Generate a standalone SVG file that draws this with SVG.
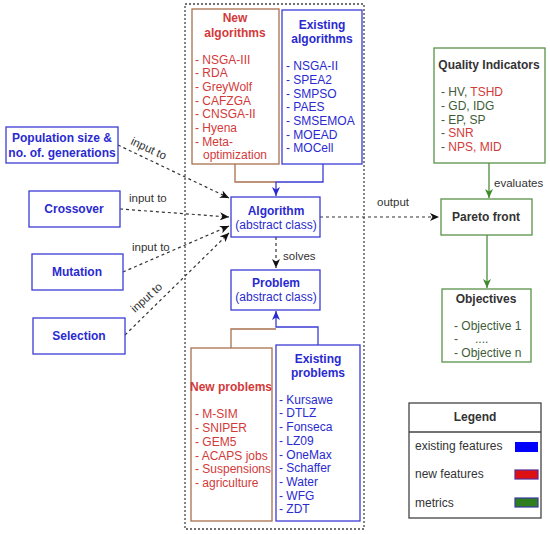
<svg xmlns="http://www.w3.org/2000/svg" width="550" height="534" viewBox="0 0 550 534">
<style>
text{font-family:"Liberation Sans",Arial,sans-serif;font-size:12px}
.b{font-weight:bold}
.c{text-anchor:middle}
.blue{fill:#2a2ad0}
.red{fill:#d23a3a}
.gt{fill:#3e5c38}
.dk{fill:#333}
.lbl{fill:#333;font-size:11.5px}
.bx{fill:#fff;stroke:#3b3bd6;stroke-width:1.3}
.nbx{fill:#fff;stroke:#a8704e;stroke-width:1.3}
.gbx{fill:#fff;stroke:#5a9348;stroke-width:1.3}
.dash{fill:none;stroke:#333;stroke-width:1.2;stroke-dasharray:3 3}
.bl{fill:none;stroke:#3b3bd6;stroke-width:1.3}
.br{fill:none;stroke:#a8704e;stroke-width:1.3}
.gl{fill:none;stroke:#4d8a3a;stroke-width:1.3}
</style>
<defs>
<marker id="ak" markerUnits="userSpaceOnUse" markerWidth="10" markerHeight="8" refX="9" refY="4" orient="auto"><path d="M0,0 L9,4 L0,8 L2.5,4 z" fill="#111"/></marker>
<marker id="ab" markerUnits="userSpaceOnUse" markerWidth="10" markerHeight="8" refX="9" refY="4" orient="auto"><path d="M0,0 L9,4 L0,8 L2.5,4 z" fill="#2a2ad0"/></marker>
<marker id="ag" markerUnits="userSpaceOnUse" markerWidth="10" markerHeight="8" refX="9" refY="4" orient="auto"><path d="M0,0 L9,4 L0,8 L2.5,4 z" fill="#3f8a2a"/></marker>
</defs>
<rect width="550" height="534" fill="#fff"/>
<rect x="185" y="4" width="179" height="525" fill="none" stroke="#444" stroke-width="1.3" stroke-dasharray="2 2"/>

<g id="connectors">
<path class="br" d="M235,164 V182 H276"/>
<path class="bl" d="M323,164 V182 H276 V196" marker-end="url(#ab)"/>
<path class="dash" d="M276,237 V268" marker-end="url(#ak)"/>
<text class="lbl" x="283" y="260">solves</text>
<path class="br" d="M231,348 V329 H276"/>
<path class="bl" d="M318,345 V327 H276 V311" marker-end="url(#ab)"/>
<path class="dash" d="M118,145 L229,198" marker-end="url(#ak)"/>
<path class="dash" d="M120,209 L229,217" marker-end="url(#ak)"/>
<path class="dash" d="M123,272 L229,226" marker-end="url(#ak)"/>
<path class="dash" d="M125,335 L229,233" marker-end="url(#ak)"/>
<text class="lbl" transform="translate(130,144) rotate(25)">input to</text>
<text class="lbl" x="129" y="202">input to</text>
<text class="lbl" x="132" y="251">input to</text>
<text class="lbl" transform="translate(135,313) rotate(-42)">input to</text>
<path class="dash" d="M320,217 L439,217" marker-end="url(#ak)"/>
<text class="lbl" x="377" y="206">output</text>
<path class="gl" d="M489,163 V198" marker-end="url(#ag)"/>
<text class="lbl" x="494" y="187">evaluates</text>
<path class="gl" d="M487,235 V288" marker-end="url(#ag)"/>
</g>

<g id="new-algorithms">
<rect class="nbx" x="192" y="9" width="87" height="155"/>
<text class="b red c" x="235" y="22">New</text>
<text class="b red c" x="235" y="37">algorithms</text>
<text class="red" x="195" y="64">- NSGA-III</text>
<text class="red" x="195" y="77">- RDA</text>
<text class="red" x="195" y="91">- GreyWolf</text>
<text class="red" x="195" y="105">- CAFZGA</text>
<text class="red" x="195" y="118">- CNSGA-II</text>
<text class="red" x="195" y="132">- Hyena</text>
<text class="red" x="195" y="146">- Meta-</text>
<text class="red" x="203" y="159">optimization</text>
</g>

<g id="existing-algorithms">
<rect class="bx" x="282" y="10" width="80" height="154"/>
<text class="b blue c" x="322" y="29">Existing</text>
<text class="b blue c" x="322" y="43">algorithms</text>
<text class="blue" x="286" y="70">- NSGA-II</text>
<text class="blue" x="286" y="84">- SPEA2</text>
<text class="blue" x="286" y="98">- SMPSO</text>
<text class="blue" x="286" y="111">- PAES</text>
<text class="blue" x="286" y="125">- SMSEMOA</text>
<text class="blue" x="286" y="139">- MOEAD</text>
<text class="blue" x="286" y="152">- MOCell</text>
</g>

<g id="algorithm">
<rect class="bx" x="231" y="197" width="89" height="40"/>
<text class="b blue c" x="276" y="215">Algorithm</text>
<text class="blue c" x="276" y="229">(abstract class)</text>
</g>

<g id="problem">
<rect class="bx" x="231" y="270" width="89" height="40"/>
<text class="b blue c" x="276" y="287">Problem</text>
<text class="blue c" x="276" y="301">(abstract class)</text>
</g>

<g id="new-problems">
<rect class="nbx" x="191" y="348" width="81" height="173"/>
<text class="b red c" x="231" y="391">New problems</text>
<text class="red" x="195" y="418">- M-SIM</text>
<text class="red" x="195" y="432">- SNIPER</text>
<text class="red" x="195" y="446">- GEM5</text>
<text class="red" x="195" y="460">- ACAPS jobs</text>
<text class="red" x="195" y="473">- Suspensions</text>
<text class="red" x="195" y="487">- agriculture</text>
</g>

<g id="existing-problems">
<rect class="bx" x="276" y="345" width="84" height="176"/>
<text class="b blue c" x="318" y="363">Existing</text>
<text class="b blue c" x="318" y="377">problems</text>
<text class="blue" x="279" y="404">- Kursawe</text>
<text class="blue" x="279" y="417">- DTLZ</text>
<text class="blue" x="279" y="431">- Fonseca</text>
<text class="blue" x="279" y="445">- LZ09</text>
<text class="blue" x="279" y="459">- OneMax</text>
<text class="blue" x="279" y="472">- Schaffer</text>
<text class="blue" x="279" y="486">- Water</text>
<text class="blue" x="279" y="500">- WFG</text>
<text class="blue" x="279" y="513">- ZDT</text>
</g>

<g id="population">
<rect class="bx" x="6" y="127" width="112" height="36"/>
<text class="b blue c" x="62" y="142">Population size &amp;</text>
<text class="b blue c" x="62" y="157">no. of. generations</text>
</g>
<g id="crossover">
<rect class="bx" x="29" y="191" width="91" height="36"/>
<text class="b blue c" x="74" y="213">Crossover</text>
</g>
<g id="mutation">
<rect class="bx" x="32" y="254" width="91" height="36"/>
<text class="b blue c" x="77" y="276">Mutation</text>
</g>
<g id="selection">
<rect class="bx" x="33" y="318" width="92" height="36"/>
<text class="b blue c" x="79" y="340">Selection</text>
</g>

<g id="quality-indicators">
<rect class="gbx" x="434" y="48" width="111" height="115"/>
<text class="b dk c" x="489" y="69">Quality Indicators</text>
<text class="gt" x="441" y="96">- HV, <tspan class="red">TSHD</tspan></text>
<text class="gt" x="441" y="110">- GD, IDG</text>
<text class="gt" x="441" y="124">- EP, SP</text>
<text class="gt" x="441" y="137">- <tspan class="red">SNR</tspan></text>
<text class="gt" x="441" y="151">- <tspan class="red">NPS, MID</tspan></text>
</g>

<g id="pareto-front">
<rect class="gbx" x="441" y="199" width="91" height="36"/>
<text class="b dk c" x="486" y="221">Pareto front</text>
</g>

<g id="objectives">
<rect class="gbx" x="442" y="289" width="89" height="73"/>
<text class="b dk c" x="486" y="303">Objectives</text>
<text class="gt" x="454" y="330">- Objective 1</text>
<text class="gt" x="454" y="343">-<tspan x="475">....</tspan></text>
<text class="gt" x="454" y="357">- Objective n</text>
</g>

<g id="legend">
<rect x="409" y="403" width="132" height="115" fill="#fff" stroke="#444" stroke-width="1.3"/>
<line x1="409" y1="432" x2="541" y2="432" stroke="#444" stroke-width="1.3"/>
<text class="b dk c" x="475" y="421">Legend</text>
<text class="dk" x="415" y="450">existing features</text>
<text class="dk" x="415" y="478">new features</text>
<text class="dk" x="415" y="507">metrics</text>
<rect x="515" y="442" width="23" height="10" fill="#0000ff"/>
<rect x="515" y="470" width="23" height="9" fill="#dd1111" stroke="#5a2a9a" stroke-width="1.2"/>
<rect x="515" y="498" width="23" height="9" fill="#2e7d1e" stroke="#3a3aa0" stroke-width="1.2"/>
</g>
</svg>
